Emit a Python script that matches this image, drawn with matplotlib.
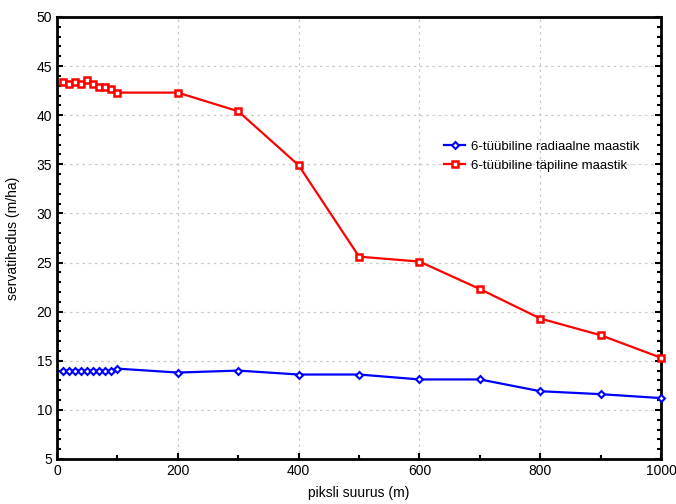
import matplotlib.pyplot as plt
from matplotlib.ticker import MultipleLocator

plt.rcParams['font.family'] = ['Liberation Sans', 'DejaVu Sans']

piksel = [10, 20, 30, 40, 50, 60, 70, 80, 90, 100, 200, 300, 400, 500, 600, 700, 800, 900, 1000]
radiaalne = [14.0, 14.0, 14.0, 14.0, 14.0, 14.0, 14.0, 14.0, 14.0, 14.2,
             13.8, 14.0, 13.6, 13.6, 13.1, 13.1, 11.9, 11.6, 11.2]
tapiline = [43.4, 43.2, 43.4, 43.2, 43.6, 43.2, 42.9, 42.9, 42.7, 42.3,
            42.3, 40.4, 34.9, 25.6, 25.1, 22.3, 19.3, 17.6, 15.3]

fig = plt.figure(figsize=(6.76, 5.04), dpi=100)
ax = fig.add_axes([0.0843, 0.0893, 0.8937, 0.8770])

ax.plot(piksel, radiaalne, color='blue', lw=1.6, marker='D', markersize=3.5,
        markerfacecolor='white', markeredgecolor='blue', markeredgewidth=1.5,
        label='6-tüübiline radiaalne maastik', clip_on=False, zorder=3)
ax.plot(piksel, tapiline, color='red', lw=1.6, marker='s', markersize=4.5,
        markerfacecolor='white', markeredgecolor='red', markeredgewidth=1.8,
        label='6-tüübiline täpiline maastik', clip_on=False, zorder=3)

ax.set_xlim(0, 1000)
ax.set_ylim(5, 50)
ax.xaxis.set_major_locator(MultipleLocator(200))
ax.xaxis.set_minor_locator(MultipleLocator(100))
ax.yaxis.set_major_locator(MultipleLocator(5))
ax.yaxis.set_minor_locator(MultipleLocator(1))

ax.tick_params(axis='both', which='both', direction='in', labelsize=10,
               width=1.5, right=True, top=False)
ax.tick_params(which='major', length=4)
ax.tick_params(which='minor', length=3)
for s in ax.spines.values():
    s.set_linewidth(2)

ax.grid(True, which='major', linestyle=(0, (2, 3)), color='#c8c8c8', lw=0.9)

ax.set_xlabel('piksli suurus (m)', fontsize=10, labelpad=6)
ax.set_ylabel('servatihedus (m/ha)', fontsize=10, labelpad=12)

ax.legend(loc='upper left', bbox_to_anchor=(0.63, 0.735), frameon=False,
          fontsize=9.5, handlelength=1.6, handletextpad=0.4, labelspacing=0.5,
          borderpad=0)

fig.savefig('out.png', dpi=100)
